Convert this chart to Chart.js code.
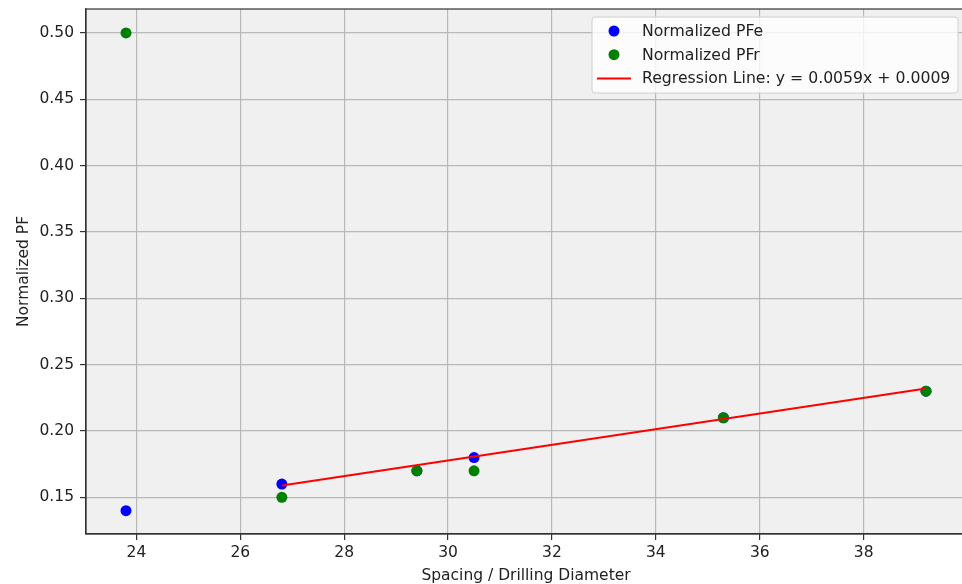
<!DOCTYPE html>
<html>
<head>
<meta charset="utf-8">
<script src="https://cdn.jsdelivr.net/npm/chart.js@4.4.0/dist/chart.umd.min.js"></script>
<style>
  html, body { margin: 0; padding: 0; background: #fff; overflow: hidden; }
  #wrap { width: 975px; height: 584px; }
</style>
</head>
<body>
<div id="wrap"><canvas id="grafico" width="975" height="584"></canvas></div>
<script>
// dados
const xPFe = [23.8, 26.8, 29.4, 30.5, 35.3, 39.2];
const yPFe = [0.14, 0.16, 0.17, 0.18, 0.21, 0.23];
const xPFr = [23.8, 26.8, 29.4, 30.5, 35.3, 39.2];
const yPFr = [0.50, 0.15, 0.17, 0.17, 0.21, 0.23];
const xReg = [26.8, 39.2];
const yReg = [0.159, 0.232];
const xTicks = [24, 26, 28, 30, 32, 34, 36, 38];
const yTicks = [0.15, 0.20, 0.25, 0.30, 0.35, 0.40, 0.45, 0.50];
const rotulos = ['Normalized PFe', 'Normalized PFr', 'Regression Line: y = 0.0059x + 0.0009'];
const cores = ['#0000ff', '#008000', '#ff0000'];

const pares = (xs, ys) => xs.map((x, i) => ({ x: x, y: ys[i] }));

Chart.defaults.font.family = '"DejaVu Sans", sans-serif';
Chart.defaults.font.size = 15.5;
Chart.defaults.color = '#222';

// fundo cinza e moldura da area do grafico
const fundo = {
    id: 'fundo',
    beforeDraw(chart) {
        const { ctx, chartArea: a } = chart;
        ctx.save();
        ctx.fillStyle = '#f0f0f0';
        ctx.fillRect(a.left, a.top, a.right - a.left, a.bottom - a.top);
        ctx.restore();
    },
    afterDraw(chart) {
        const { ctx, chartArea: a } = chart;
        ctx.save();
        ctx.strokeStyle = '#333';
        ctx.lineWidth = 1.2;
        ctx.strokeRect(a.left, a.top, a.right - a.left, a.bottom - a.top);
        ctx.restore();
    }
};

// legenda dentro do grafico, canto superior direito
const legenda = {
    id: 'legenda',
    afterDraw(chart) {
        const ctx = chart.ctx;
        const x0 = 592, y0 = 17, w = 366, h = 76;
        ctx.save();
        ctx.fillStyle = 'rgba(255,255,255,0.8)';
        ctx.strokeStyle = '#d0d0d0';
        ctx.lineWidth = 1;
        ctx.beginPath();
        ctx.roundRect(x0, y0, w, h, 3);
        ctx.fill();
        ctx.stroke();
        ctx.font = '15.7px "DejaVu Sans", sans-serif';
        ctx.textBaseline = 'middle';
        rotulos.forEach((txt, i) => {
            const yy = 31 + i * 23.7;
            if (i < 2) {
                ctx.fillStyle = cores[i];
                ctx.beginPath();
                ctx.arc(614, yy, 5.5, 0, Math.PI * 2);
                ctx.fill();
            } else {
                ctx.strokeStyle = cores[i];
                ctx.lineWidth = 2;
                ctx.beginPath();
                ctx.moveTo(597, yy);
                ctx.lineTo(631, yy);
                ctx.stroke();
            }
            ctx.fillStyle = '#222';
            ctx.fillText(txt, 642, yy + 1);
        });
        ctx.restore();
    }
};

const ctx = document.getElementById('grafico').getContext('2d');

new Chart(ctx, {
    type: 'scatter',
    data: {
        datasets: [{
            label: rotulos[0],
            data: pares(xPFe, yPFe),
            backgroundColor: cores[0],
            borderWidth: 0,
            pointRadius: 5.5,
            order: 3
        }, {
            label: rotulos[1],
            data: pares(xPFr, yPFr),
            backgroundColor: cores[1],
            borderWidth: 0,
            pointRadius: 5.5,
            order: 2
        }, {
            label: rotulos[2],
            data: pares(xReg, yReg),
            showLine: true,
            borderColor: cores[2],
            borderWidth: 2,
            pointRadius: 0,
            order: 1
        }]
    },
    options: {
        responsive: false,
        animation: false,
        layout: { padding: { top: 9, right: 9, left: 0, bottom: 0 } },
        plugins: {
            legend: { display: false },
            tooltip: { enabled: false }
        },
        scales: {
            x: {
                type: 'linear',
                min: 23.03,
                max: 39.97,
                afterBuildTicks: s => { s.ticks = xTicks.map(v => ({ value: v })); },
                afterFit: s => { s.height = 50; s.paddingLeft = 0; s.paddingRight = 0; },
                grid: { color: '#b8b8b8', lineWidth: 1.2, tickColor: '#333', tickLength: 6 },
                border: { color: '#333', width: 1.2 },
                ticks: { padding: 4, color: '#222' },
                title: {
                    display: true,
                    text: 'Spacing / Drilling Diameter',
                    color: '#222',
                    padding: { top: 0, bottom: -1 }
                }
            },
            y: {
                type: 'linear',
                min: 0.1224,
                max: 0.518,
                afterBuildTicks: s => { s.ticks = yTicks.map(v => ({ value: v })); },
                afterFit: s => { s.width = 86; s.paddingTop = 0; s.paddingBottom = 0; },
                grid: { color: '#b8b8b8', lineWidth: 1.2, tickColor: '#333', tickLength: 6 },
                border: { color: '#333', width: 1.2 },
                ticks: { padding: 6, color: '#222', callback: v => v.toFixed(2) },
                title: {
                    display: true,
                    text: 'Normalized PF',
                    color: '#222',
                    padding: { top: 15, bottom: 0 }
                }
            }
        }
    },
    plugins: [fundo, legenda]
});
</script>
</body>
</html>
